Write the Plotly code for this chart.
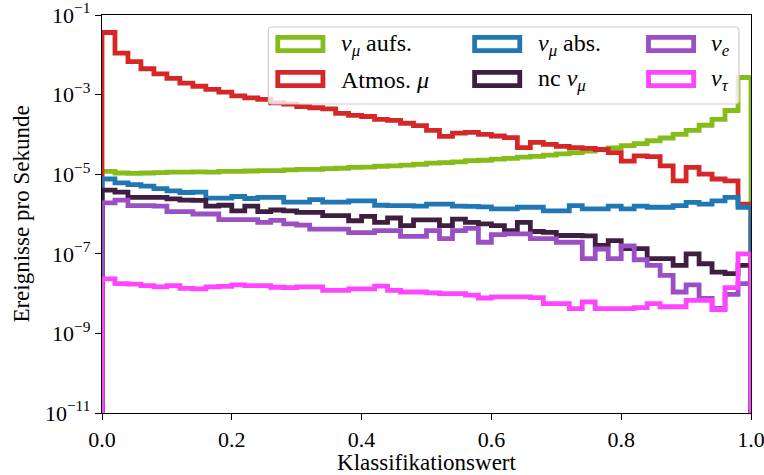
import numpy as np
import plotly.graph_objects as go

# 50 equal-width bins of the classifier score
bin_edges = np.linspace(0.0, 1.0, 51)

# log10 of the event rate (events per second) in each bin
log_numu_up = [
    -4.93, -4.97, -4.98, -4.97, -4.96, -4.95, -4.95, -4.94, -4.95, -4.93,
    -4.93, -4.92, -4.91, -4.91, -4.89, -4.88, -4.88, -4.86, -4.85, -4.83,
    -4.82, -4.80, -4.79, -4.77, -4.75, -4.72, -4.71, -4.69, -4.66, -4.65,
    -4.62, -4.60, -4.57, -4.55, -4.52, -4.49, -4.46, -4.42, -4.38, -4.34,
    -4.28, -4.23, -4.16, -4.09, -4.00, -3.90, -3.77, -3.62, -3.40, -2.57]
log_atmo_mu = [
    -1.44, -1.96, -2.17, -2.35, -2.48, -2.59, -2.71, -2.79, -2.87, -2.94,
    -3.03, -3.08, -3.12, -3.21, -3.24, -3.30, -3.33, -3.36, -3.47, -3.52,
    -3.55, -3.62, -3.65, -3.72, -3.78, -3.90, -4.05, -3.97, -3.95, -4.00,
    -4.04, -4.08, -4.33, -4.20, -4.25, -4.30, -4.33, -4.35, -4.38, -4.46,
    -4.67, -4.54, -4.56, -4.79, -5.17, -4.83, -5.00, -5.12, -5.17, -5.75]
log_numu_down = [
    -5.12, -5.22, -5.26, -5.30, -5.36, -5.42, -5.46, -5.45, -5.60, -5.60,
    -5.56, -5.61, -5.58, -5.58, -5.70, -5.70, -5.64, -5.70, -5.70, -5.67,
    -5.67, -5.78, -5.79, -5.79, -5.80, -5.75, -5.75, -5.80, -5.81, -5.82,
    -5.87, -5.87, -5.83, -5.83, -5.92, -5.92, -5.79, -5.87, -5.87, -5.80,
    -5.87, -5.80, -5.83, -5.83, -5.79, -5.71, -5.75, -5.67, -5.58, -5.83]
log_nc_numu = [
    -5.40, -5.45, -5.58, -5.58, -5.58, -5.62, -5.65, -5.66, -5.80, -5.78,
    -5.92, -5.80, -5.94, -5.90, -5.92, -5.96, -5.96, -6.04, -6.04, -6.17,
    -6.06, -6.21, -6.10, -6.29, -6.15, -6.15, -6.29, -6.13, -6.21, -6.25,
    -6.29, -6.42, -6.21, -6.44, -6.46, -6.54, -6.54, -6.55, -6.79, -6.67,
    -6.87, -6.87, -7.12, -7.12, -7.29, -7.00, -7.25, -7.46, -7.50, -7.29]
log_nue = [
    -5.72, -5.65, -5.79, -5.79, -5.80, -5.94, -5.94, -6.00, -6.00, -6.14,
    -6.14, -6.14, -6.21, -6.16, -6.25, -6.28, -6.38, -6.38, -6.38, -6.47,
    -6.47, -6.42, -6.42, -6.56, -6.56, -6.42, -6.62, -6.42, -6.36, -6.71,
    -6.52, -6.50, -6.50, -6.62, -6.62, -6.71, -6.71, -7.12, -6.88, -7.12,
    -6.80, -7.15, -7.29, -7.54, -7.96, -7.78, -8.12, -8.37, -8.02, -7.75]
log_nutau = [
    -7.63, -7.75, -7.76, -7.80, -7.83, -7.80, -7.87, -7.88, -7.83, -7.82,
    -7.78, -7.80, -7.80, -7.84, -7.85, -7.83, -7.83, -7.92, -7.92, -7.88,
    -7.88, -7.81, -7.92, -7.96, -7.96, -7.98, -8.00, -8.00, -8.04, -8.11,
    -8.08, -8.08, -8.08, -8.10, -8.25, -8.25, -8.38, -8.21, -8.38, -8.38,
    -8.38, -8.35, -8.25, -8.33, -8.33, -8.17, -8.17, -8.40, -7.85, -7.00]

labels = [
    "<i>ν</i><sub><i>μ</i></sub> aufs.",
    "Atmos. <i>μ</i>",
    "<i>ν</i><sub><i>μ</i></sub> abs.",
    "nc <i>ν</i><sub><i>μ</i></sub>",
    "<i>ν</i><sub><i>e</i></sub>",
    "<i>ν</i><sub><i>τ</i></sub>",
]
colors = ["#86bc1a", "#d62728", "#1f77b4", "#3f1f40", "#9a4fc4", "#ff45ff"]
series = [log_numu_up, log_atmo_mu, log_numu_down, log_nc_numu, log_nue, log_nutau]

y_tick_exps = [-1, -3, -5, -7, -9, -11]
x_tick_vals = [0.0, 0.2, 0.4, 0.6, 0.8, 1.0]

FONT = "Liberation Serif"
LW = 4.8

fig = go.Figure()

# step outlines that start and end on the floor, like an unfilled histogram
floor = 1e-14
x_step = [bin_edges[0]] + list(bin_edges[:-1]) + [bin_edges[-1]]
for logs, color in zip(series, colors):
    y_step = [floor] + list(10.0 ** np.asarray(logs)) + [floor]
    fig.add_trace(go.Scatter(
        x=x_step, y=y_step, mode="lines",
        line=dict(color=color, width=LW, shape="hv"),
        showlegend=False, hoverinfo="skip",
    ))

# pixel geometry of the plotting area
W, H = 764, 475
L, R, T, B = 101.5, 751.0, 15.0, 413.0


def px(xp):
    return (xp - L) / (R - L)


def py(yp):
    return (B - yp) / (B - T)


shapes = []
annotations = []

# legend frame with rounded corners
fx0, fx1, fy0, fy1, rad = 268, 739, 27, 104, 4
rx, ry = rad / (R - L), rad / (B - T)
a, b, c, d = px(fx0), px(fx1), py(fy1), py(fy0)
path = (f"M{a + rx},{c} L{b - rx},{c} Q{b},{c} {b},{c + ry} "
        f"L{b},{d - ry} Q{b},{d} {b - rx},{d} L{a + rx},{d} "
        f"Q{a},{d} {a},{d - ry} L{a},{c + ry} Q{a},{c} {a + rx},{c} Z")
shapes.append(dict(type="path", xref="paper", yref="paper", path=path,
                   line=dict(color="#cccccc", width=1.2),
                   fillcolor="rgba(255,255,255,0.8)", layer="above"))

# legend entries laid out column by column (two rows, three columns)
col_rect_x = [275, 472, 646]
col_text_x = [339, 536, 709]
row_y = [44, 79]
for k, (lab, color) in enumerate(zip(labels, colors)):
    col, row = k // 2, k % 2
    x0 = col_rect_x[col] + LW / 2
    x1 = col_rect_x[col] + 50 - LW / 2
    yc = row_y[row]
    y0, y1 = yc - 9 + LW / 2, yc + 9 - LW / 2
    shapes.append(dict(type="rect", xref="paper", yref="paper",
                       x0=px(x0), x1=px(x1), y0=py(y1), y1=py(y0),
                       line=dict(color=color, width=LW),
                       fillcolor="rgba(0,0,0,0)", layer="above"))
    annotations.append(dict(xref="paper", yref="paper", x=px(col_text_x[col]),
                            y=py(yc + 1), text=lab, showarrow=False,
                            xanchor="left", yanchor="middle",
                            font=dict(family=FONT, size=24, color="black")))

axis_common = dict(
    showline=True, linecolor="black", linewidth=1.3, mirror=True,
    ticks="outside", ticklen=6, tickwidth=1.3, tickcolor="black",
    showgrid=False, zeroline=False, ticklabeloverflow="allow",
    automargin=False,
    tickfont=dict(family=FONT, size=22, color="black"),
)

fig.update_layout(
    width=W, height=H,
    margin=dict(l=L, r=W - R, t=T, b=H - B),
    paper_bgcolor="white", plot_bgcolor="white",
    shapes=shapes, annotations=annotations,
    xaxis=dict(
        range=[0.0, 1.0],
        tickvals=x_tick_vals,
        ticktext=[f"{v:.1f}" for v in x_tick_vals],
        title=dict(text="Klassifikationswert", standoff=6,
                   font=dict(family=FONT, size=23, color="black")),
        **axis_common,
    ),
    yaxis=dict(
        type="log", range=[-11, -1],
        tickvals=[10.0 ** e for e in y_tick_exps],
        ticktext=[f"10<sup>−{-e}</sup>" for e in y_tick_exps],
        title=dict(text="Ereignisse pro Sekunde", standoff=8,
                   font=dict(family=FONT, size=23, color="black")),
        **axis_common,
    ),
)

fig.write_html("out.html")
